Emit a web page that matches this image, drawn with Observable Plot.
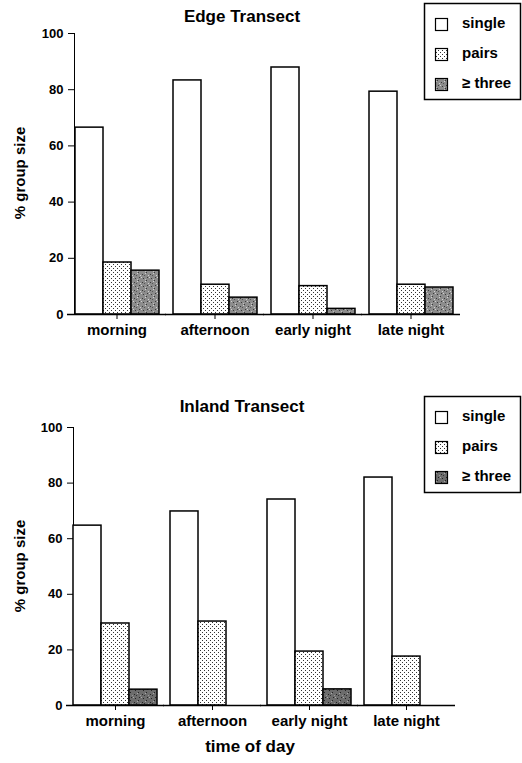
<!DOCTYPE html>
<html>
<head>
<meta charset="utf-8">
<script src="https://cdn.jsdelivr.net/npm/d3@7"></script>
<script src="https://cdn.jsdelivr.net/npm/@observablehq/plot@0.6"></script>
<style>
  html, body { margin: 0; padding: 0; background: white; }
  #wrap { position: relative; width: 522px; height: 763px; overflow: hidden; font-family: "Liberation Sans", Arial, sans-serif; }
  #wrap svg { position: absolute; left: 0; }
  [aria-label^="fx-axis"] text { font-size: 15px; }
</style>
</head>
<body>
<div id="wrap"></div>
<script>
// ---- data ----
const times = ["morning", "afternoon", "early night", "late night"];
const groups = ["single", "pairs", "≥ three"];
const yTicks = [0, 20, 40, 60, 80, 100];

const edgeSingle = [66.5, 83.3, 87.9, 79.3];
const edgePairs  = [18.5, 10.6, 10.1, 10.6];
const edgeThree  = [15.6, 6.0, 2.0, 9.6];

const inlandSingle = [64.7, 69.8, 74.1, 82.0];
const inlandPairs  = [29.5, 30.2, 19.4, 17.6];
const inlandThree  = [5.7, 0, 5.8, 0];

const titles = ["Edge Transect", "Inland Transect"];
const xTitle = "time of day";
const yTitle = "% group size";

// ---- patterns ----
const wrap = document.getElementById("wrap");
const NS = "http://www.w3.org/2000/svg";
const defsSvg = document.createElementNS(NS, "svg");
defsSvg.setAttribute("width", 0); defsSvg.setAttribute("height", 0);
defsSvg.style.position = "absolute";
defsSvg.innerHTML = `
<defs>
  <pattern id="dots" width="4" height="4" patternUnits="userSpaceOnUse">
    <rect width="4" height="4" fill="white"/>
    <rect x="0" y="0" width="1" height="1" fill="#333"/>
    <rect x="2" y="2" width="1" height="1" fill="#333"/>
  </pattern>
  <pattern id="mottleA" width="8" height="8" patternUnits="userSpaceOnUse">
    <rect width="8" height="8" fill="#8c8c8c"/>
    <rect x="1" y="2" width="1" height="1" fill="#3a3a3a"/>
    <rect x="5" y="0" width="1" height="1" fill="#3a3a3a"/>
    <rect x="6" y="5" width="1" height="1" fill="#3a3a3a"/>
    <rect x="2" y="6" width="1" height="1" fill="#3a3a3a"/>
    <rect x="3" y="3" width="1" height="1" fill="#555"/>
    <rect x="0" y="5" width="1" height="1" fill="#d0d0d0"/>
    <rect x="4" y="1" width="1" height="1" fill="#d0d0d0"/>
    <rect x="7" y="3" width="1" height="1" fill="#d0d0d0"/>
    <rect x="4" y="7" width="1" height="1" fill="#c0c0c0"/>
  </pattern>
  <pattern id="mottleB" width="8" height="8" patternUnits="userSpaceOnUse">
    <rect width="8" height="8" fill="#6c6c6c"/>
    <rect x="1" y="2" width="1" height="1" fill="#222"/>
    <rect x="5" y="0" width="1" height="1" fill="#222"/>
    <rect x="6" y="5" width="1" height="1" fill="#222"/>
    <rect x="2" y="6" width="1" height="1" fill="#222"/>
    <rect x="3" y="3" width="1" height="1" fill="#333"/>
    <rect x="0" y="5" width="1" height="1" fill="#aaa"/>
    <rect x="4" y="1" width="1" height="1" fill="#aaa"/>
    <rect x="7" y="3" width="1" height="1" fill="#999"/>
  </pattern>
</defs>`;
wrap.appendChild(defsSvg);

function makeChart(single, pairs, three, threeFill, opts) {
  const series = [single, pairs, three];
  const rows = times.flatMap((t, i) => groups.map((g, j) => ({time: t, group: g, value: series[j][i]})))
    .filter(d => d.value > 0);
  return Plot.plot({
    width: 522,
    height: opts.height,
    marginTop: opts.marginTop,
    marginBottom: opts.marginBottom,
    marginLeft: opts.marginLeft,
    marginRight: opts.marginRight,
    style: {fontFamily: "'Liberation Sans', Arial, sans-serif", fontWeight: "bold", fontSize: "13px", color: "black", background: "transparent", overflow: "visible"},
    fx: {domain: times, paddingInner: 0.13, paddingOuter: 0.04, label: null, tickSize: 5, tickPadding: 5},
    x: {domain: groups, padding: 0, axis: null},
    y: {domain: [0, 100], ticks: yTicks, line: true, tickSize: 6, tickPadding: 5, label: null},
    color: {domain: groups, range: ["white", "url(#dots)", threeFill]},
    marks: [
      Plot.barY(rows, {fx: "time", x: "group", y: "value", fill: "group", stroke: "black", strokeWidth: 1.5}),
      Plot.ruleY([0], {insetLeft: -7, insetRight: -7, stroke: "black", strokeWidth: 1.5})
    ]
  });
}

const top1 = makeChart(edgeSingle, edgePairs, edgeThree, "url(#mottleA)",
  {height: 380, marginTop: 33, marginBottom: 66, marginLeft: 69, marginRight: 64});
top1.style.top = "0px";
wrap.appendChild(top1);

const bot = makeChart(inlandSingle, inlandPairs, inlandThree, "url(#mottleB)",
  {height: 383, marginTop: 47, marginBottom: 58, marginLeft: 68, marginRight: 69});
bot.style.top = "380px";
wrap.appendChild(bot);

// ---- overlay: titles, legends, axis titles ----
const ov = document.createElementNS(NS, "svg");
ov.setAttribute("width", 522); ov.setAttribute("height", 763);
ov.style.top = "0px";
ov.setAttribute("font-family", "'Liberation Sans', Arial, sans-serif");
ov.setAttribute("font-weight", "bold");
const fills = [["white", "url(#dots)", "url(#mottleA)"], ["white", "url(#dots)", "url(#mottleB)"]];
const boxTops = [3, 396];
const titleY = [22, 412];
const yLabelCenter = [173, 566];
let html = "";
for (let k = 0; k < 2; k++) {
  html += `<text x="242" y="${titleY[k]}" text-anchor="middle" font-size="17">${titles[k]}</text>`;
  html += `<text transform="translate(25,${yLabelCenter[k]}) rotate(-90)" text-anchor="middle" font-size="15">${yTitle}</text>`;
  const b = boxTops[k];
  html += `<rect x="424.5" y="${b + 0.5}" width="96" height="96" fill="white" stroke="black" stroke-width="1.5"/>`;
  groups.forEach((g, j) => {
    html += `<rect x="435.5" y="${b + 15.5 + 30 * j}" width="12" height="12" fill="${fills[k][j]}" stroke="black" stroke-width="1.2"/>`;
    html += `<text x="462" y="${b + 25 + 30 * j}" font-size="15">${g}</text>`;
  });
}
html += `<text x="250" y="752" text-anchor="middle" font-size="17">${xTitle}</text>`;
ov.innerHTML = html;
wrap.appendChild(ov);
</script>
</body>
</html>
